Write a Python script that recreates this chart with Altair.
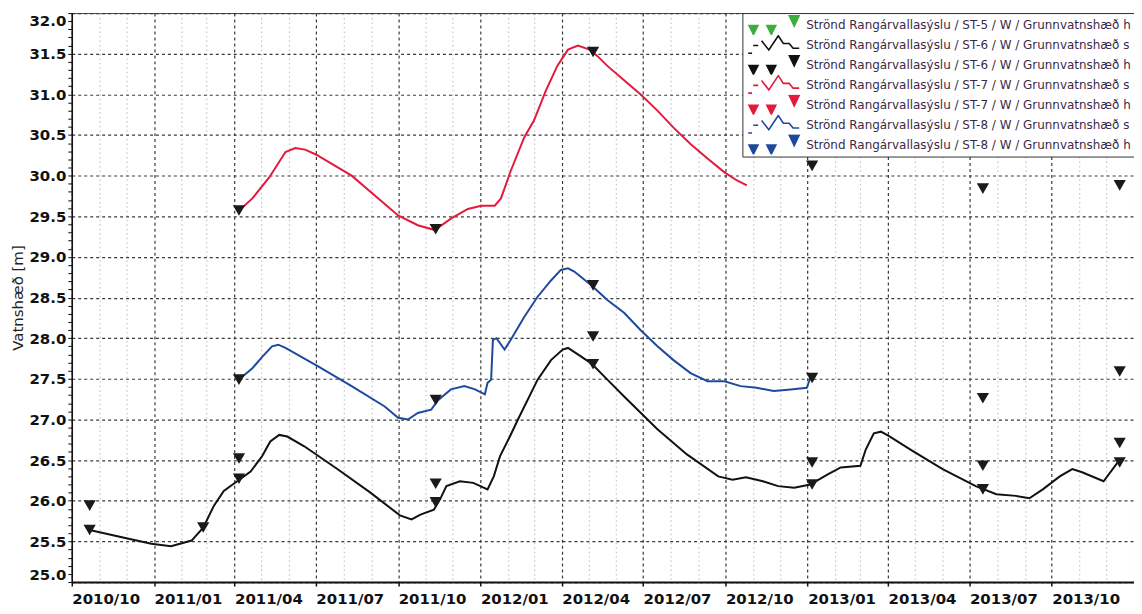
import altair as alt
import pandas as pd

# ---------------- data ----------------
ST6_S_DATES = ["2010-10-21", "2010-11-26", "2010-12-29", "2011-01-20", "2011-02-12", "2011-02-25",
               "2011-03-09", "2011-03-20", "2011-04-04", "2011-04-19", "2011-05-02", "2011-05-11",
               "2011-05-21", "2011-05-30", "2011-06-18", "2011-07-25", "2011-08-31", "2011-10-03",
               "2011-10-16", "2011-10-26", "2011-11-10", "2011-11-17", "2011-11-24", "2011-12-09",
               "2011-12-24", "2012-01-01", "2012-01-09", "2012-01-16", "2012-01-23", "2012-02-03",
               "2012-02-12", "2012-03-05", "2012-03-20", "2012-04-02", "2012-04-08",
               "2012-04-19", "2012-05-04", "2012-05-22", "2012-06-10", "2012-07-17", "2012-08-19",
               "2012-09-23", "2012-10-09", "2012-10-24", "2012-11-12", "2012-11-29", "2012-12-17",
               "2013-01-04", "2013-01-23", "2013-02-07", "2013-03-01", "2013-03-07", "2013-03-16",
               "2013-03-24", "2013-04-03", "2013-04-26", "2013-06-01", "2013-07-08", "2013-07-31",
               "2013-08-22", "2013-09-06", "2013-09-21", "2013-10-10", "2013-10-24", "2013-11-04",
               "2013-11-28", "2013-12-15"]
ST6_S_VALUES = [25.64, 25.55, 25.47, 25.44, 25.51, 25.67,
                25.94, 26.12, 26.24, 26.36, 26.55, 26.73,
                26.81, 26.79, 26.67, 26.39, 26.10, 25.82,
                25.77, 25.83, 25.89, 26.02, 26.18, 26.24,
                26.22, 26.18, 26.14, 26.30, 26.55, 26.79,
                27.00, 27.49, 27.73, 27.86, 27.88,
                27.80, 27.69, 27.49, 27.28, 26.88, 26.57,
                26.30, 26.26, 26.29, 26.24, 26.18, 26.16,
                26.20, 26.32, 26.41, 26.43, 26.63, 26.83,
                26.85, 26.79, 26.63, 26.39, 26.18, 26.08,
                26.06, 26.03, 26.14, 26.30, 26.39, 26.35,
                26.24, 26.49]

ST7_S_DATES = ["2011-04-08", "2011-04-21", "2011-05-10", "2011-05-28", "2011-06-08", "2011-06-19",
               "2011-07-01", "2011-08-10", "2011-10-01", "2011-10-23", "2011-11-11", "2011-11-29",
               "2011-12-18", "2012-01-02", "2012-01-17", "2012-01-24", "2012-02-04", "2012-02-19",
               "2012-03-01", "2012-03-14", "2012-03-27", "2012-04-08", "2012-04-19", "2012-05-02",
               "2012-05-11", "2012-05-22", "2012-06-10", "2012-06-28", "2012-07-17", "2012-08-04",
               "2012-08-23", "2012-09-11", "2012-09-30", "2012-10-14", "2012-10-25"]
ST7_S_VALUES = [29.59, 29.72, 29.98, 30.29, 30.34, 30.32,
                30.26, 30.00, 29.51, 29.39, 29.33, 29.47,
                29.59, 29.63, 29.63, 29.72, 30.06, 30.47,
                30.68, 31.04, 31.35, 31.55, 31.60, 31.55,
                31.47, 31.35, 31.17, 31.00, 30.80, 30.59,
                30.39, 30.21, 30.04, 29.94, 29.88]

ST8_S_DATES = ["2011-04-08", "2011-04-21", "2011-05-02", "2011-05-13", "2011-05-20", "2011-05-28",
               "2011-07-04", "2011-08-10", "2011-09-16", "2011-10-01", "2011-10-12", "2011-10-23",
               "2011-11-07", "2011-11-15", "2011-11-29", "2011-12-14", "2011-12-26", "2012-01-06",
               "2012-01-09", "2012-01-13", "2012-01-15", "2012-01-19", "2012-01-28", "2012-02-04",
               "2012-02-19", "2012-03-05", "2012-03-20", "2012-03-31", "2012-04-08", "2012-04-15",
               "2012-05-04", "2012-05-22", "2012-06-10", "2012-06-28", "2012-07-17", "2012-08-04",
               "2012-08-23", "2012-09-11", "2012-09-30", "2012-10-18", "2012-11-05", "2012-11-24",
               "2012-12-13", "2012-12-31", "2013-01-04"]
ST8_S_VALUES = [27.51, 27.63, 27.77, 27.90, 27.92, 27.88,
                27.65, 27.41, 27.16, 27.02, 27.00, 27.08,
                27.12, 27.24, 27.37, 27.41, 27.37, 27.31,
                27.45, 27.49, 27.98, 28.00, 27.86, 27.98,
                28.26, 28.51, 28.71, 28.84, 28.86, 28.82,
                28.65, 28.47, 28.31, 28.10, 27.90, 27.73,
                27.57, 27.47, 27.47, 27.41, 27.39, 27.35,
                27.37, 27.39, 27.51]

ST5_H_DATES = ["2010-10-21", "2011-04-06", "2011-11-12", "2012-05-06", "2013-01-06", "2013-07-16", "2013-12-16"]
ST5_H_VALUES = [25.94, 26.52, 26.21, 28.02, 26.47, 26.43, 26.71]
ST6_H_DATES = ["2010-10-21", "2011-02-25", "2011-04-06", "2011-11-12", "2012-05-06", "2013-01-06", "2013-07-16", "2013-12-16"]
ST6_H_VALUES = [25.64, 25.67, 26.27, 25.98, 27.68, 26.20, 26.14, 26.47]
ST7_H_DATES = ["2011-04-06", "2011-11-12", "2012-05-06", "2013-01-06", "2013-07-16", "2013-12-16"]
ST7_H_VALUES = [29.57, 29.34, 31.52, 30.12, 29.84, 29.88]
ST8_H_DATES = ["2011-04-06", "2011-11-12", "2012-05-06", "2013-01-06", "2013-07-16", "2013-12-16"]
ST8_H_VALUES = [27.49, 27.24, 28.65, 27.51, 27.26, 27.59]

PREFIX = "Strönd Rangárvallasýslu / "
SERIES = [PREFIX + "ST-5 / W / Grunnvatnshæð h",
          PREFIX + "ST-6 / W / Grunnvatnshæð s",
          PREFIX + "ST-6 / W / Grunnvatnshæð h",
          PREFIX + "ST-7 / W / Grunnvatnshæð s",
          PREFIX + "ST-7 / W / Grunnvatnshæð h",
          PREFIX + "ST-8 / W / Grunnvatnshæð s",
          PREFIX + "ST-8 / W / Grunnvatnshæð h"]
KINDS = ["h", "s", "h", "s", "h", "s", "h"]
COLORS = ["#3cae3c", "#111111", "#111111", "#e31a3c", "#e31a3c", "#1f4a9c", "#1f4a9c"]

# ---------------- styling ----------------
TRI = ("M-0.87,0.02L-0.55,0.02L-0.71,0.34Z M-0.23,0.02L0.09,0.02L-0.07,0.34Z "
       "M0.57,-0.34L0.93,-0.34L0.75,0.04Z")
ZIG = ("M-0.9,0.3L-0.76,0.3M-0.72,0.02L-0.54,0.02M-0.42,-0.15L-0.16,0.18L0.18,-0.33"
       "L0.36,-0.05L0.57,-0.05L0.71,0.12L0.93,0.12")
SHAPES = [TRI if k == "h" else ZIG for k in KINDS]
FILLS = [c if k == "h" else "transparent" for c, k in zip(COLORS, KINDS)]

series_data = [
    (SERIES[0], "h", ST5_H_DATES, ST5_H_VALUES),
    (SERIES[1], "s", ST6_S_DATES, ST6_S_VALUES),
    (SERIES[2], "h", ST6_H_DATES, ST6_H_VALUES),
    (SERIES[3], "s", ST7_S_DATES, ST7_S_VALUES),
    (SERIES[4], "h", ST7_H_DATES, ST7_H_VALUES),
    (SERIES[5], "s", ST8_S_DATES, ST8_S_VALUES),
    (SERIES[6], "h", ST8_H_DATES, ST8_H_VALUES),
]
rows = []
for name, kind, ds, vs in series_data:
    for d, v in zip(ds, vs):
        rows.append({"series": name, "kind": kind, "date": d, "value": v})
df = pd.DataFrame(rows)

FONT = "DejaVu Sans"
month_values = []
for y in range(2010, 2014):
    for m in range(1, 13):
        if (y == 2010 and m < 10):
            continue
        month_values.append(alt.DateTime(year=y, month=m, date=1, utc=True))

q_test = "utcmonth(datum.value) % 3 === 0"
x_axis = alt.Axis(
    values=month_values,
    labelExpr="utcmonth(datum.value) % 3 === 0 ? utcFormat(datum.value, '%Y/%m') : ''",
    labelAlign="left", labelBaseline="top", labelPadding=6,
    labelFont=FONT, labelFontSize=15, labelFontWeight="bold", labelColor="#111111",
    labelFlush=False, labelOverlap=False,
    tickSize={"condition": {"test": q_test, "value": 4}, "value": 0},
    tickColor="#111111", tickWidth=1.5,
    domainColor="#111111", domainWidth=2,
    grid=True,
    gridColor={"condition": {"test": q_test, "value": "#3a3a3a"}, "value": "#c4c4d6"},
    gridDash={"condition": {"test": q_test, "value": [3, 3]}, "value": [1.5, 3]},
    gridWidth=1.2,
    title=None,
)
half_test = "abs(datum.value * 2 - round(datum.value * 2)) < 0.01"
y_axis = alt.Axis(
    values=[round(25 + 0.1 * i, 1) for i in range(71)],
    labelExpr=f"{half_test} ? format(datum.value, '.1f') : ''",
    labelFlush=True, labelOverlap=False, labelPadding=2,
    labelFont=FONT, labelFontSize=15, labelFontWeight="bold", labelColor="#111111",
    tickSize=4, tickColor="#111111", tickWidth=1,
    domainColor="#111111", domainWidth=1.5,
    grid=True, gridColor="#3a3a3a", gridDash=[3, 3], gridWidth=1.2,
    gridOpacity={"condition": {"test": half_test, "value": 1}, "value": 0},
    title="Vatnshæð [m]", titleFont=FONT, titleFontSize=15, titleFontWeight="normal",
    titleColor="#222222", titleX=-54, titleY=285.5, titleAlign="center", titleBaseline="middle",
)

x_enc = alt.X("date:T", scale=alt.Scale(type="utc", domain=[alt.DateTime(year=2010, month=10, date=1, utc=True),
                                                              alt.DateTime(year=2014, month=1, date=1, utc=True)]),
              axis=x_axis)
y_enc = alt.Y("value:Q", scale=alt.Scale(domain=[25, 32], nice=False, zero=False), axis=y_axis)

base = alt.Chart(df).encode(x=x_enc, y=y_enc)

lines = base.transform_filter("datum.kind === 's'").mark_line(strokeWidth=2, clip=True).encode(
    color=alt.Color("series:N", scale=alt.Scale(domain=[SERIES[1], SERIES[3], SERIES[5]],
                                                range=[COLORS[1], COLORS[3], COLORS[5]]), legend=None),
    order=alt.Order("date:T"),
)
tris = base.transform_filter("datum.kind === 'h'").mark_point(
    shape="triangle-down", filled=True, size=150, color="#1a1a1a", opacity=1, clip=True)

leg = alt.Legend(title=None, orient="top-right", offset=0, padding=2, fillColor="white",
                 strokeColor="#333333", symbolSize=3136, symbolStrokeWidth=1.6, symbolOpacity=1,
                 clipHeight=20, rowPadding=0, labelFont=FONT, labelFontSize=12,
                 labelColor="#3a2a4a", labelLimit=400, labelOffset=4)
legend_layer = base.mark_point(opacity=0, filled=True).encode(
    shape=alt.Shape("series:N", scale=alt.Scale(domain=SERIES, range=SHAPES), legend=leg),
    fill=alt.Fill("series:N", scale=alt.Scale(domain=SERIES, range=FILLS), legend=leg),
    stroke=alt.Stroke("series:N", scale=alt.Scale(domain=SERIES, range=COLORS), legend=leg),
)

chart = alt.layer(lines, tris, legend_layer).resolve_scale(color="independent").properties(
    width=1066, height=571,
    autosize=alt.AutoSizeParams(type="none"),
    padding={"left": 64, "top": 4, "right": 0, "bottom": 28},
    background="white",
).configure_view(stroke="#444444", strokeWidth=1)

chart.save("out.html", embed_options={"renderer": "svg", "actions": False})
